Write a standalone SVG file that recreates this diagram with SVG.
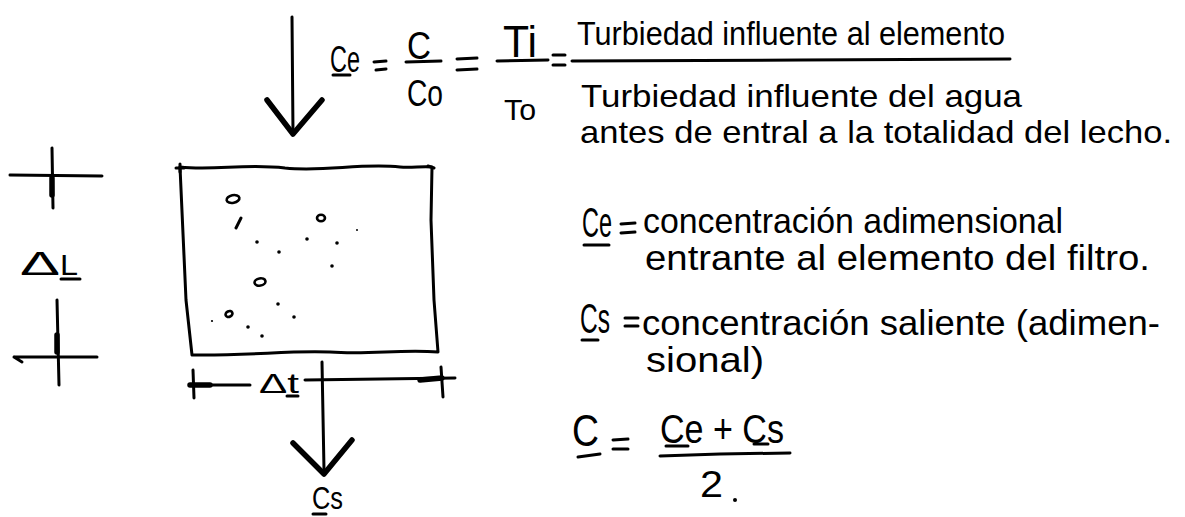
<svg xmlns="http://www.w3.org/2000/svg" width="1185" height="517" viewBox="0 0 1185 517">
<style>
  .ln{fill:none;stroke:#000;stroke-width:3;stroke-linecap:round;stroke-linejoin:round}
  .thk{fill:none;stroke:#000;stroke-width:5.5;stroke-linecap:round;stroke-linejoin:round}
  .t{font-family:"Liberation Sans","DejaVu Sans",sans-serif;fill:#000}
  .dot{fill:#000}
  .ring{fill:none;stroke:#000;stroke-width:2.6}
</style>
<rect width="1185" height="517" fill="#fff"/>

<g id="connectors">
  <path class="ln" d="M292,17 L293,133"/>
  <path class="thk" d="M267,100 L293,134 L322,100"/>
  <path class="ln" d="M322,362 L324,470"/>
  <path class="thk" d="M293,443 L324,474 L352,440"/>
</g>

<g id="filter-element">
  <path class="ln" d="M180,167 C215,171 245,163 285,168 C325,172 360,163 400,167 C412,168 422,166 432,167 L431,220 L434,300 L438,352 C400,349 370,355 330,352 C290,350 250,356 192,355 L186,300 L180,167"/>
  <path class="ln" d="M176,168 L184,168 M180,164 L180,172 M428,166 L434,168"/>
  <ellipse class="ring" cx="233" cy="199" rx="6.5" ry="3.8" transform="rotate(-12 233 199)"/>
  <path class="ln" d="M236,228 L241,218"/>
  <ellipse class="ring" cx="321" cy="218" rx="4" ry="3.3"/>
  <ellipse class="ring" cx="260" cy="282" rx="5.5" ry="3.6" transform="rotate(-10 260 282)"/>
  <ellipse class="ring" cx="229" cy="314" rx="3.6" ry="2.8" transform="rotate(-25 229 314)"/>
  <circle class="dot" cx="257" cy="242" r="1.8"/>
  <circle class="dot" cx="279" cy="252" r="1.8"/>
  <circle class="dot" cx="307" cy="239" r="1.8"/>
  <circle class="dot" cx="337" cy="243" r="1.8"/>
  <circle class="dot" cx="357" cy="230" r="1"/>
  <circle class="dot" cx="332" cy="266" r="1.8"/>
  <circle class="dot" cx="278" cy="304" r="1.8"/>
  <circle class="dot" cx="212" cy="321" r="1.1"/>
  <circle class="dot" cx="294" cy="317" r="1.8"/>
  <circle class="dot" cx="248" cy="327" r="1.8"/>
  <circle class="dot" cx="262" cy="336" r="1.8"/>
</g>

<g id="dim-L">
  <path class="ln" d="M10,175 L102,176 M52,148 L53,208"/>
  <path class="thk" d="M52,178 L52,195"/>
  <text class="t" x="20" y="275" font-size="34" textLength="40" lengthAdjust="spacingAndGlyphs">Δ</text>
  <text class="t" x="60" y="275" font-size="30" textLength="18" lengthAdjust="spacingAndGlyphs">L</text>
  <path class="ln" d="M61,279 L80,279"/>
  <path class="ln" d="M57,300 L59,385 M14,357 L97,357 M14,357 L22,362"/>
  <path class="thk" d="M57,335 L57,352"/>
</g>

<g id="dim-t">
  <path class="ln" d="M193,370 L194,398 M190,385 L250,385 M305,380 L455,378 M441,367 L443,397"/>
  <path class="thk" d="M190,385 L210,385 M420,380 L442,378"/>
  <text class="t" x="259" y="393" font-size="28" textLength="40" lengthAdjust="spacingAndGlyphs">Δt</text>
  <path class="ln" d="M287,396 L298,396"/>
</g>

<g id="label-cs">
  <text class="t" x="312" y="509" font-size="32" textLength="31" lengthAdjust="spacingAndGlyphs">Cs</text>
  <path class="ln" d="M313,514 L326,514"/>
</g>

<g id="eq-top">
  <text class="t" x="330" y="72" font-size="36" textLength="30" lengthAdjust="spacingAndGlyphs">Ce</text>
  <path class="ln" d="M333,75 L350,75"/>
  <path class="ln" d="M374,62 L386,61 M376,70 L386,69"/>
  <text class="t" x="407" y="59" font-size="38" textLength="24" lengthAdjust="spacingAndGlyphs">C</text>
  <path class="ln" d="M406,62 L441,61"/>
  <text class="t" x="407" y="106" font-size="36" textLength="36" lengthAdjust="spacingAndGlyphs">Co</text>
  <path class="ln" d="M457,59 L477,58 M457,70 L477,69"/>
  <text class="t" x="503" y="57" font-size="44" textLength="34" lengthAdjust="spacingAndGlyphs">Ti</text>
  <path class="ln" d="M497,61 L548,60"/>
  <text class="t" x="504" y="120" font-size="30" textLength="32" lengthAdjust="spacingAndGlyphs">To</text>
  <path class="ln" d="M553,55 L565,55 M553,65 L565,65"/>
  <text class="t" x="577" y="45" font-size="34" textLength="428" lengthAdjust="spacingAndGlyphs">Turbiedad influente al elemento</text>
  <path class="ln" d="M572,61 L800,60 L1010,59"/>
  <text class="t" x="581" y="107" font-size="32" textLength="441" lengthAdjust="spacingAndGlyphs">Turbiedad influente del agua</text>
  <text class="t" x="580" y="143" font-size="32" textLength="592" lengthAdjust="spacingAndGlyphs">antes de entral a la totalidad del lecho.</text>
</g>

<g id="def-ce">
  <text class="t" x="582" y="237" font-size="42" textLength="30" lengthAdjust="spacingAndGlyphs">Ce</text>
  <path class="ln" d="M584,245 L609,245"/>
  <path class="ln" d="M621,224 L635,223 M621,233 L635,232"/>
  <text class="t" x="643" y="233" font-size="35" textLength="420" lengthAdjust="spacingAndGlyphs">concentración adimensional</text>
  <text class="t" x="645" y="270" font-size="35" textLength="505" lengthAdjust="spacingAndGlyphs">entrante al elemento del filtro.</text>
</g>

<g id="def-cs">
  <text class="t" x="580" y="333" font-size="42" textLength="30" lengthAdjust="spacingAndGlyphs">Cs</text>
  <path class="ln" d="M582,340 L598,340"/>
  <path class="ln" d="M625,318 L638,318 M625,326 L638,326"/>
  <text class="t" x="642" y="335" font-size="35" textLength="518" lengthAdjust="spacingAndGlyphs">concentración saliente (adimen-</text>
  <text class="t" x="646" y="372" font-size="35" textLength="118" lengthAdjust="spacingAndGlyphs">sional)</text>
</g>

<g id="eq-c">
  <text class="t" x="572" y="446" font-size="44" textLength="27" lengthAdjust="spacingAndGlyphs">C</text>
  <path class="ln" d="M578,457 L600,454"/>
  <path class="ln" d="M613,440 L628,439 M613,449 L628,449"/>
  <text class="t" x="660" y="443" font-size="40" textLength="124" lengthAdjust="spacingAndGlyphs">Ce + Cs</text>
  <path class="ln" d="M666,446 L688,446 M754,444 L768,444"/>
  <path class="ln" d="M660,456 L720,454 L790,453"/>
  <text class="t" x="700" y="497" font-size="36" textLength="23" lengthAdjust="spacingAndGlyphs">2</text>
  <circle class="dot" cx="735" cy="500" r="2"/>
</g>
</svg>
